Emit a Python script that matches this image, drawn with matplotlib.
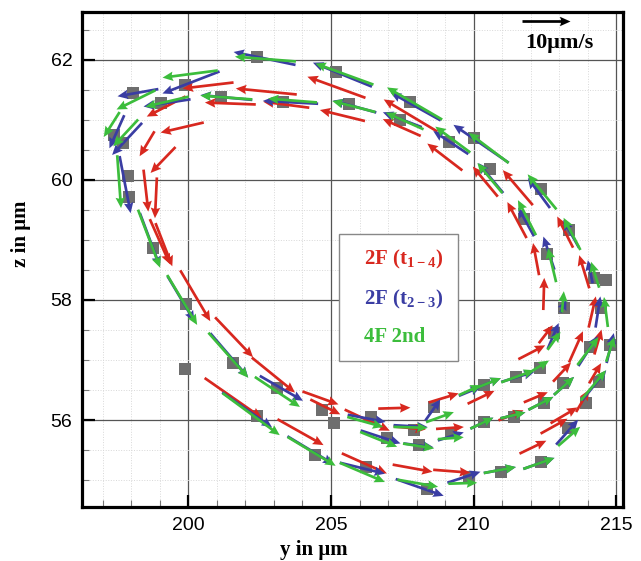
import numpy as np
import matplotlib
matplotlib.use("Agg")
import matplotlib.pyplot as plt
from matplotlib.ticker import MultipleLocator

plt.rcParams['mathtext.fontset'] = 'custom'
plt.rcParams['mathtext.rm'] = 'Liberation Serif:bold'
plt.rcParams['mathtext.bf'] = 'Liberation Serif:bold'

# measured particle positions (grey squares), in um
sq_y = [202.41, 205.19, 205.64, 203.33, 201.15, 199.88, 198.06, 199.05, 197.39, 197.70,
        197.88, 197.91, 198.76, 199.92, 199.88, 201.57, 203.12, 202.41, 204.70, 205.09,
        204.45, 206.39, 206.95, 207.90, 208.07, 208.60, 209.20, 206.21, 208.36, 209.83,
        210.96, 212.37, 210.36, 211.48, 210.36, 211.41, 212.46, 213.94, 213.31, 213.13,
        214.40, 212.33, 212.82, 214.09, 214.79, 213.16, 214.46, 214.22, 214.64, 212.57,
        213.34, 211.75, 212.35, 210.59, 210.00, 209.13, 207.76, 207.41]
sq_z = [62.05, 61.80, 61.27, 61.30, 61.38, 61.57, 61.45, 61.28, 60.75, 60.62,
        60.07, 59.72, 58.87, 57.93, 56.85, 56.95, 56.53, 56.07, 56.17, 55.95,
        55.42, 56.05, 55.70, 55.83, 55.58, 56.22, 55.78, 55.22, 54.85, 55.05,
        55.13, 55.30, 56.58, 56.72, 55.97, 56.05, 56.28, 56.28, 55.87, 56.62,
        56.63, 56.87, 57.45, 57.22, 57.25, 57.87, 57.87, 58.37, 58.33, 58.77,
        59.17, 59.35, 59.85, 60.18, 60.70, 60.63, 61.30, 61.00]

# 2F (t1-4): positions (um) and velocity (um/s)
red_y = [205.19, 205.40, 203.43, 201.47, 202.73, 200.69, 199.22, 199.78, 198.55, 199.11,
         198.51, 198.86, 199.00, 199.14, 200.24, 201.60, 202.98, 201.57, 203.93, 204.63,
         204.80, 206.27, 207.22, 207.76, 209.17, 208.95, 206.17, 207.86, 209.23, 212.08,
         212.82, 212.04, 212.53, 212.46, 213.59, 214.36, 213.10, 213.82, 214.26, 211.31,
         212.18, 213.17, 210.26, 210.41, 211.55, 211.52, 213.21, 212.19, 213.88, 214.16,
         207.79, 207.48, 208.99]
red_z = [61.54, 61.07, 61.25, 61.27, 61.47, 61.57, 61.22, 60.87, 60.60, 60.33,
         59.82, 59.70, 58.97, 58.92, 58.07, 57.38, 56.75, 56.37, 55.80, 56.37,
         56.22, 56.00, 56.20, 55.87, 55.87, 56.37, 55.28, 55.20, 55.15, 55.55,
         55.90, 57.13, 57.43, 58.10, 57.22, 57.30, 56.80, 56.32, 56.78, 56.08,
         56.38, 56.08, 56.38, 59.97, 59.87, 59.33, 59.13, 58.68, 58.47, 57.80,
         61.07, 60.87, 60.38]
red_u = [-12.1, -9.4, -9.6, -10.6, -12.7, -10.6, -8.1, -9.0, -3.1, -5.2,
         1.0, -0.4, 4.2, 3.5, 6.25, 7.9, 9.0, 11.9, 9.6, 7.5,
         6.25, 9.4, 6.7, 6.7, 5.8, 6.25, 9.4, 8.3, 7.7, 5.6,
         5.6, 5.6, 2.9, 0.2, 2.9, 1.5, 3.75, 2.7, 2.5, 5.2,
         5.0, 5.6, 5.6, -5.2, -6.25, -4.0, -3.3, -1.25, -2.1, 1.5,
         -11.2, -7.9, -7.3]
red_v = [4.4, 2.3, 1.25, 0.4, 1.25, -1.25, -4.2, -2.1, -5.2, -5.4,
         -8.75, -8.5, -9.4, -9.0, -10.6, -8.3, -7.3, -8.3, -5.4, -2.7,
         -3.1, -4.4, 0.2, -0.6, 0.4, 1.9, -4.2, -1.5, -0.6, 2.7,
         3.1, 2.9, 3.75, 6.7, 6.5, 5.2, 4.0, 4.6, 4.2, 2.1,
         2.1, 3.3, 2.7, 6.25, 7.3, 7.5, 6.5, 6.7, 6.9, 6.5,
         6.7, 3.5, 5.6]

# 2F (t2-3)
blue_y = [202.67, 205.40, 205.83, 203.58, 201.33, 200.09, 198.23, 199.25, 197.49, 197.85,
          197.78, 198.65, 199.74, 201.43, 203.26, 202.06, 204.28, 206.25, 206.74, 207.79,
          208.07, 209.20, 208.57, 209.87, 206.10, 208.11, 209.66, 210.92, 212.29, 213.28,
          212.79, 214.01, 214.79, 213.17, 214.23, 210.43, 211.55, 212.36, 211.38, 210.29,
          213.15, 210.60, 212.29, 211.84, 213.42, 212.64, 214.09, 214.36, 210.26, 209.20,
          207.97, 207.50]
blue_z = [62.02, 61.75, 61.22, 61.29, 61.37, 61.62, 61.45, 61.28, 60.80, 60.68,
          59.92, 59.00, 58.02, 57.08, 56.53, 56.17, 55.50, 56.03, 55.72, 55.90,
          55.58, 55.73, 56.17, 56.48, 55.20, 54.88, 55.05, 55.17, 55.28, 55.80,
          57.40, 57.15, 57.20, 56.57, 56.58, 56.60, 56.72, 56.28, 56.08, 55.95,
          57.90, 60.03, 59.78, 59.30, 59.10, 58.78, 58.47, 57.80, 60.60, 60.62,
          61.22, 61.00]
blue_u = [-12.9, -12.3, -9.0, -11.5, -10.8, -11.9, -8.5, -9.8, -3.1, -6.25,
          2.3, 4.2, 5.6, 7.9, 9.0, 10.4, 9.6, 7.9, 8.3, 7.1,
          6.25, 5.4, 3.1, 4.6, 9.4, 10.0, 6.9, 6.7, 6.5, 4.6,
          2.3, 4.0, 1.5, 4.2, 5.0, 6.25, 6.9, 5.2, 5.2, 4.8,
          1.25, -5.2, -4.6, -3.3, -3.3, -2.3, -1.0, 1.0, -11.5, -7.3,
          -10.4, -8.1]
blue_v = [2.7, 5.0, 2.5, 0.6, 1.0, -4.6, -1.5, -1.5, -6.9, -6.7,
          -11.9, -11.2, -9.4, -9.2, -5.2, -7.3, -5.8, -1.5, -2.7, -0.4,
          -0.8, 1.7, 4.4, 1.9, -2.3, -3.5, 2.3, 1.25, 2.3, 5.2,
          5.4, 6.25, 6.25, 3.75, 6.25, 2.5, 2.1, 2.7, 1.25, 2.3,
          2.7, 6.25, 6.25, 6.0, 5.8, 6.9, 4.8, 6.5, 7.9, 4.8,
          5.8, 3.1]

# 4F 2nd
green_y = [202.70, 205.47, 205.80, 203.65, 201.33, 200.06, 198.16, 199.25, 197.31, 197.80,
           197.57, 198.62, 199.78, 201.40, 203.12, 202.20, 204.32, 206.20, 206.67, 207.79,
           208.07, 209.20, 208.82, 209.87, 206.10, 208.04, 209.62, 210.92, 212.29, 213.35,
           212.82, 214.01, 214.79, 213.17, 214.20, 210.43, 211.55, 212.33, 212.36, 211.38,
           210.29, 213.13, 210.57, 212.40, 211.87, 213.45, 212.75, 214.26, 214.64, 210.53,
           209.27, 207.93, 207.58]
green_z = [62.01, 61.76, 61.22, 61.32, 61.37, 61.76, 61.33, 61.30, 60.92, 60.78,
           59.97, 59.02, 58.00, 57.08, 56.47, 56.10, 55.48, 55.97, 55.68, 55.88,
           55.57, 55.70, 56.05, 56.50, 55.13, 54.95, 54.95, 55.17, 55.28, 55.73,
           57.32, 57.15, 57.18, 56.57, 56.58, 56.60, 56.73, 56.90, 56.28, 56.08,
           55.95, 57.97, 60.03, 59.80, 59.37, 59.10, 58.58, 58.42, 57.80, 60.53,
           60.67, 61.27, 60.98]
green_u = [-12.7, -12.1, -9.0, -10.2, -10.8, -11.5, -8.1, -9.0, -3.3, -5.2,
           0.8, 4.6, 6.25, 8.3, 9.4, 11.9, 10.0, 7.5, 7.7, 7.1,
           6.5, 5.4, 5.8, 4.6, 9.4, 8.5, 6.0, 6.7, 6.5, 4.6,
           2.7, 4.4, 1.7, 4.2, 5.2, 6.25, 6.9, 3.75, 5.2, 5.2,
           4.8, 0.4, -5.2, -6.0, -3.75, -3.5, -1.7, -1.7, -0.8, -8.3,
           -7.3, -11.5, -7.9]
green_v = [1.0, 4.4, 2.3, 0.8, 0.8, -1.5, -4.0, -2.1, -5.2, -5.6,
           -11.0, -12.1, -10.4, -9.4, -6.25, -8.75, -6.0, -2.1, -3.1, -0.2,
           -1.0, 0.4, 2.1, 2.1, -4.0, -1.5, 0.2, 1.25, 2.3, 4.0,
           3.75, 5.8, 5.2, 3.75, 6.25, 2.5, 2.5, 2.3, 2.7, 1.25,
           2.3, 4.4, 6.25, 7.3, 7.3, 6.7, 7.1, 5.4, 6.25, 6.25,
           5.4, 6.7, 3.5]

labels = [r'2F (t$_{\mathrm{1-4}}$)', r'2F (t$_{\mathrm{2-3}}$)', '4F 2nd']
colors = ['#d8281f', '#3a3da3', '#3cbd3c']

fig = plt.figure(figsize=(6.41, 5.61), dpi=100)
ax = fig.add_axes([0.128, 0.0963, 0.844, 0.882])

ax.plot(sq_y, sq_z, 's', color='#6e6e6e', markersize=9.2, markeredgewidth=0, zorder=2)

qargs = dict(units='dots', scale_units='dots', scale=1 / 4.8, angles='uv', pivot='middle',
             width=2.7, headwidth=3.5, headlength=3.9, headaxislength=3.5)
q = None
for yy, zz, uu, vv, c in [(red_y, red_z, red_u, red_v, colors[0]),
                          (blue_y, blue_z, blue_u, blue_v, colors[1]),
                          (green_y, green_z, green_u, green_v, colors[2])]:
    q = ax.quiver(yy, zz, uu, vv, color=c, zorder=3, **qargs)

# reference arrow: 10 um/s
ax.quiverkey(q, 0.858, 0.982, 10, '', coordinates='axes', color='k', labelpos='S')
ax.text(0.882, 0.937, '10\u03bcm/s', transform=ax.transAxes, ha='center', va='center',
        fontsize=16, fontweight='bold', family='Liberation Serif')

ax.set_xlim(196.27, 215.24)
ax.set_ylim(54.555, 62.79)
ax.xaxis.set_major_locator(MultipleLocator(5))
ax.xaxis.set_minor_locator(MultipleLocator(1))
ax.yaxis.set_major_locator(MultipleLocator(2))
ax.yaxis.set_minor_locator(MultipleLocator(0.5))
ax.grid(which='major', color='#555555', linewidth=0.9)
ax.grid(which='minor', color='#d8d8d8', linestyle=':', linewidth=0.7)
ax.set_axisbelow(True)
ax.tick_params(which='major', direction='in', length=9, width=1.6, pad=7, labelsize=14)
ax.tick_params(which='minor', direction='in', length=5, width=0.8, color='#777777')
for lab in ax.get_xticklabels() + ax.get_yticklabels():
    lab.set_family('Liberation Sans')
for s in ax.spines.values():
    s.set_linewidth(2.3)

ax.set_xlabel('y in \u03bcm', fontsize=15, fontweight='bold', family='Liberation Serif')
ax.set_ylabel('z in \u03bcm', fontsize=15, fontweight='bold', family='Liberation Serif')
ax.xaxis.set_label_coords(0.429, -0.066)
ax.yaxis.set_label_coords(-0.094, 0.552)

handles = [plt.Line2D([], [], linestyle='none') for _ in labels]
leg = ax.legend(handles, labels, loc='upper left', bbox_to_anchor=(0.475, 0.5515),
                borderaxespad=0, handlelength=0.35, handletextpad=0.2, labelspacing=0.8,
                borderpad=0.66, fancybox=False, framealpha=1, edgecolor='#888888',
                labelcolor=colors,
                prop={'family': 'Liberation Serif', 'weight': 'bold', 'size': 15})
leg.get_frame().set_linewidth(1.0)

fig.savefig('out.png', dpi=100)
